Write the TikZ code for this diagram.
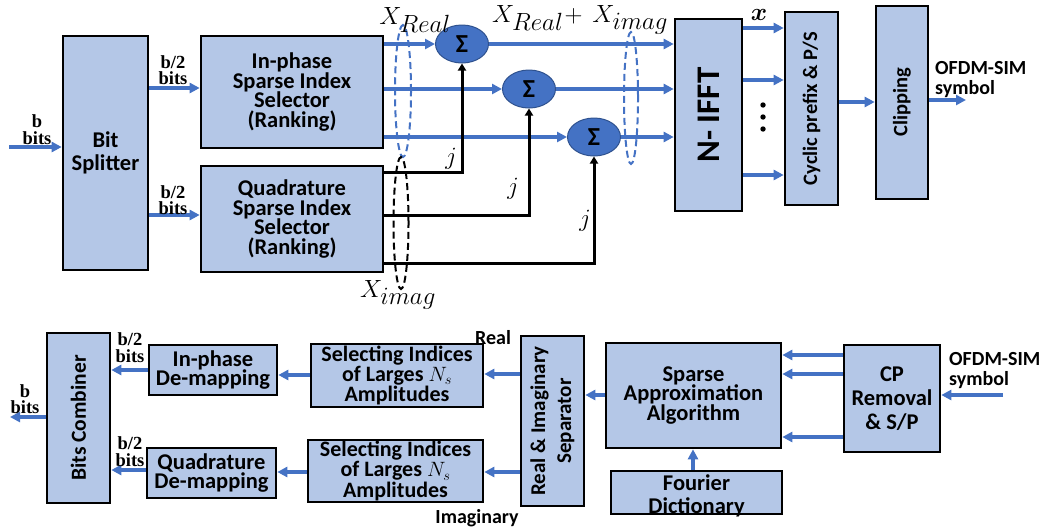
\documentclass[tikz,border=0pt]{standalone}
\usepackage{amsmath,bm}
\usepackage{fontspec}
\setmainfont{Carlito}
\newfontfamily\tnr{Liberation Serif}
\usetikzlibrary{arrows.meta,shapes.geometric}
\DeclareMathSizes{28}{28}{23}{18}
\definecolor{boxblue}{HTML}{B4C7E7}
\definecolor{lineblue}{HTML}{4472C4}
\definecolor{sigblue}{HTML}{4472C4}
\definecolor{sigedge}{HTML}{2F528F}
\begin{document}
\begin{tikzpicture}[x=1pt,y=-1pt,
 box/.style={draw=black,line width=2.6pt,fill=boxblue,inner sep=0pt,align=center,font=\bfseries\fontsize{22.5}{19.5}\selectfont},
 rlab/.style={rotate=90,align=center,inner sep=0pt,font=\bfseries\fontsize{20.5}{26}\selectfont},
 barrow/.style={draw=lineblue,line width=3.2pt,-{Triangle[length=10pt,width=10pt]}},
 jline/.style={draw=black,line width=3pt,-{Triangle[length=7pt,width=8pt]}},
 bdash/.style={draw=lineblue,line width=2pt,dash pattern=on 7pt off 4pt},
 kdash/.style={draw=black,line width=2pt,dash pattern=on 7pt off 4pt},
 sig/.style={ellipse,draw=sigedge,line width=1pt,fill=sigblue,minimum width=53pt,minimum height=38pt,inner sep=0pt,font=\bfseries\fontsize{26}{26}\selectfont},
 tlab/.style={font=\tnr\bfseries\fontsize{18.5}{16.5}\selectfont,align=center,inner sep=0pt},
 slab/.style={font=\bfseries\fontsize{20}{20}\selectfont,align=left,inner sep=0pt},
 mlab/.style={font=\fontsize{28}{28}\selectfont,inner sep=0pt},
]
\useasboundingbox (0,0) rectangle (1043,528);

% ---------- transmitter ----------
\node[box,minimum width=85pt,minimum height=234pt,font=\bfseries\fontsize{22.5}{23}\selectfont] (split) at (105.5,153) {Bit\\Splitter};
\node[box,minimum width=182pt,minimum height=112pt] (inph) at (292,92) {In-phase\\Sparse Index\\Selector\\(Ranking)};
\node[box,minimum width=182pt,minimum height=106pt] (quad) at (292,219) {Quadrature\\Sparse Index\\Selector\\(Ranking)};
\node[box,minimum width=67pt,minimum height=192pt,label={[rlab,font=\bfseries\fontsize{33}{33}\selectfont]center:N- IFFT}] (ifft) at (708.5,115) {};
\node[box,minimum width=53pt,minimum height=193pt,label={[rlab]center:Cyclic prefix \& P/S}] (cp) at (811.5,108.5) {};
\node[box,minimum width=52pt,minimum height=193pt,label={[rlab]center:Clipping}] (clip) at (902,102.5) {};

\node[sig] (s1) at (462,44) {Σ};
\node[sig] (s2) at (529,89) {Σ};
\node[sig] (s3) at (594,137) {Σ};

\coordinate (bin) at (9,147);
\draw[barrow] (bin) -- (bin -| split.west);
\node[tlab] (lb1) at (37,129.5) {b\\bits};
\draw[barrow] (split.east |- 0,88) -- (inph.west |- 0,88);
\draw[barrow] (split.east |- 0,215) -- (quad.west |- 0,215);
\node[tlab] (lb2) at (173,70) {b/2\\bits};
\node[tlab] (lb3) at (173,200) {b/2\\bits};

\draw[barrow] (inph.east |- s1) -- (s1);
\draw[barrow] (inph.east |- s2) -- (s2);
\draw[barrow] (inph.east |- s3) -- (s3);
\draw[barrow] (s1) -- (s1 -| ifft.west);
\draw[barrow] (s2) -- (s2 -| ifft.west);
\draw[barrow] (s3) -- (s3 -| ifft.west);

\draw[jline] (quad.east |- 0,172) -| (s1);
\draw[jline] (quad.east |- 0,215) -| (s2);
\draw[jline] (quad.east |- 0,263) -| (s3);
\node[mlab,font=\fontsize{31}{31}\selectfont] (j1) at (451,159) {$j$};
\node[mlab,font=\fontsize{31}{31}\selectfont] (j2) at (513,189) {$j$};
\node[mlab,font=\fontsize{31}{31}\selectfont] (j3) at (585,221) {$j$};

\draw[bdash] (403,91) ellipse [x radius=8pt, y radius=66pt];
\draw[kdash] (401,223) ellipse [x radius=7.5pt, y radius=66pt];
\draw[bdash] (631,98) ellipse [x radius=7pt, y radius=66pt];
\node[mlab] (xr) at (415,20) {$X_{Real}$};
\node[mlab] (xri) at (580,20) {$X_{Real}\!+\,X_{imag}$};
\node[mlab] (xi) at (398,295) {$X_{imag}$};

\draw[barrow] (ifft.east |- 0,28) -- (cp.west |- 0,28);
\draw[barrow] (ifft.east |- 0,80) -- (cp.west |- 0,80);
\draw[barrow] (ifft.east |- 0,175) -- (cp.west |- 0,175);
\node[mlab,font=\fontsize{30}{30}\selectfont] (xx) at (759,15) {$\bm{x}$};
\fill (763,105) circle[radius=2.7pt] (763,117) circle[radius=2.7pt] (763,129) circle[radius=2.7pt];
\draw[barrow] (cp.east |- 0,102) -- (clip.west |- 0,102);
\coordinate (out1) at (966,100);
\draw[barrow] (clip.east |- out1) -- (out1);
\node[slab,anchor=west] (sym1) at (935,80) {OFDM-SIM\\symbol};

% ---------- receiver ----------
\node[box,minimum width=63pt,minimum height=170pt,label={[rlab,font=\bfseries\fontsize{21.5}{26}\selectfont]center:Bits Combiner}] (comb) at (78.5,418) {};
\node[box,minimum width=128pt,minimum height=50pt] (idm) at (213,370) {In-phase\\De-mapping};
\node[box,minimum width=129pt,minimum height=50pt] (qdm) at (211.5,473) {Quadrature\\De-mapping};
\node[box,minimum width=172pt,minimum height=63pt,font=\bfseries\fontsize{22}{19}\selectfont] (sel1) at (397,375.5) {Selecting Indices\\of Larges $N_s$\\Amplitudes};
\node[box,minimum width=175pt,minimum height=62pt,font=\bfseries\fontsize{22}{19}\selectfont] (sel2) at (395.5,471) {Selecting Indices\\of Larges $N_s$\\Amplitudes};
\node[box,minimum width=63pt,minimum height=170pt,label={[rlab,font=\bfseries\fontsize{21}{26}\selectfont]center:Real \& Imaginary\\Separator}] (sep) at (552.5,421) {};
\node[box,minimum width=175pt,minimum height=105pt] (sparse) at (693.5,395.5) {Sparse\\Approximation\\Algorithm};
\node[box,minimum width=171pt,minimum height=43pt] (four) at (696.5,492.5) {};
\begin{scope}
\clip ([shift={(1.3pt,-1.3pt)}]four.south west) rectangle ([shift={(-1.3pt,1.3pt)}]four.north east);
\node[align=center,inner sep=0pt,font=\bfseries\fontsize{22.5}{23}\selectfont] (fourt) at (696.5,495.5) {Fourier\\Dictionary};
\end{scope}
\node[box,minimum width=96pt,minimum height=107pt,font=\bfseries\fontsize{22.5}{24}\selectfont] (cprem) at (892,398.5) {CP\\Removal\\\& S/P};

\coordinate (in2) at (1003,395);
\draw[barrow] (in2) -- (in2 -| cprem.east);
\node[slab,anchor=west] (sym2) at (949,371) {OFDM-SIM\\symbol};
\draw[barrow] (cprem.west |- 0,355) -- (sparse.east |- 0,355);
\draw[barrow] (cprem.west |- 0,374) -- (sparse.east |- 0,374);
\draw[barrow] (cprem.west |- 0,437) -- (sparse.east |- 0,437);
\draw[barrow] (sparse.west |- 0,395) -- (sep.east |- 0,395);
\draw[barrow] (four.north -| 693,0) -- (sparse.south -| 693,0);
\draw[barrow] (sep.west |- 0,374) -- (sel1.east |- 0,374);
\draw[barrow] (sep.west |- 0,472) -- (sel2.east |- 0,472);
\node[slab,font=\bfseries\fontsize{20}{20}\selectfont] (rl) at (493,338) {Real};
\node[slab,font=\bfseries\fontsize{20}{20}\selectfont] (il) at (477,518) {Imaginary};
\draw[barrow] (sel1.west |- 0,375) -- (idm.east |- 0,375);
\draw[barrow] (sel2.west |- 0,472) -- (qdm.east |- 0,472);
\draw[barrow] (idm.west |- 0,370) -- (comb.east |- 0,370);
\draw[barrow] (qdm.west |- 0,470) -- (comb.east |- 0,470);
\node[tlab] (lb4) at (130,347.5) {b/2\\bits};
\node[tlab] (lb5) at (130,451.5) {b/2\\bits};
\coordinate (out2) at (10,417);
\draw[barrow] (comb.west |- out2) -- (out2);
\node[tlab] (lb6) at (25,399) {b\\bits};
\end{tikzpicture}
\end{document}
